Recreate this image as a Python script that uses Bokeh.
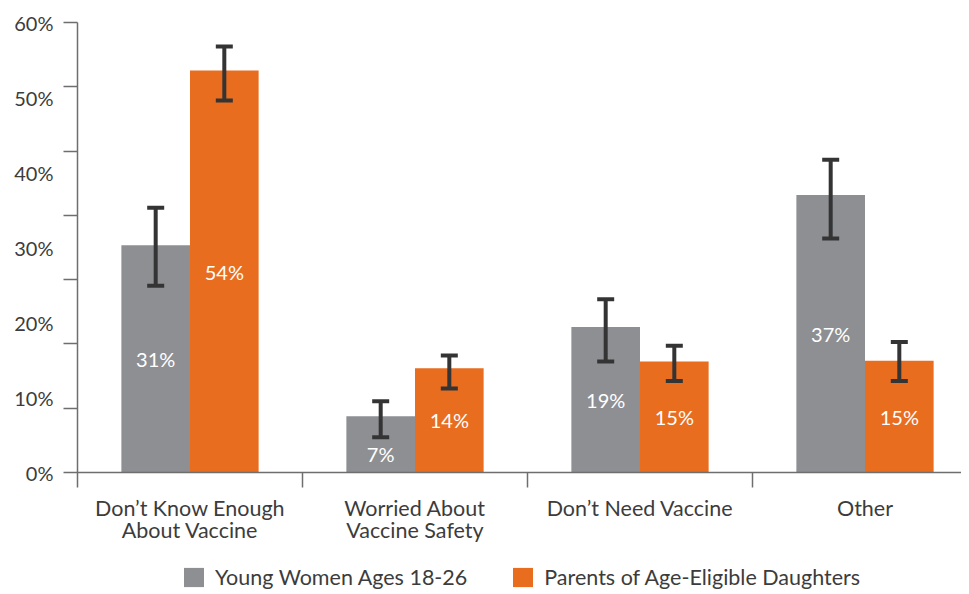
from bokeh.plotting import figure
from bokeh.models import (ColumnDataSource, FixedTicker, Range1d, Whisker, TeeHead,
                          Legend, LegendItem)
from bokeh.core.properties import value
from bokeh.embed import file_html
from bokeh.resources import INLINE

categories = ["Don\u2019t Know Enough\nAbout Vaccine", "Worried About\nVaccine Safety",
              "Don\u2019t Need Vaccine", "Other"]
series_names = ["Young Women Ages 18-26", "Parents of Age-Eligible Daughters"]
young = [30.3, 7.5, 19.4, 37.0]
young_hi = [35.3, 9.5, 23.1, 41.7]
young_lo = [24.9, 4.7, 14.8, 31.2]
young_labels = ["31%", "7%", "19%", "37%"]
parents = [53.6, 13.9, 14.8, 14.9]
parents_hi = [56.8, 15.6, 16.9, 17.4]
parents_lo = [49.6, 11.2, 12.2, 12.2]
parents_labels = ["54%", "14%", "15%", "15%"]
y_tick_labels = ["0%", "10%", "20%", "30%", "40%", "50%", "60%"]

GRAY = "#8e8f93"
ORANGE = "#e86d1f"
DARK = "#343434"
TEXT = "#3c3c3c"
AXIS = "#6e6e6e"
FONT = "Lato"

W, H = 961, 590
LEFT, TOP = 77, 22
PX_PER_CAT = 225.0
PX_PER_PCT = 7.5
frame_w = W - LEFT
y_min = -(H - (TOP + 60 * PX_PER_PCT)) / PX_PER_PCT
x_max = frame_w / PX_PER_CAT

BAR_W = 0.305
OFF = BAR_W / 2
n = len(categories)
centers = [i + 0.5 for i in range(n)]
bounds = list(range(1, n))

p = figure(width=W, height=H, output_backend="svg", toolbar_location=None,
           x_range=Range1d(0, x_max), y_range=Range1d(y_min, 60),
           x_axis_location=None,
           min_border_left=LEFT, min_border_right=0, min_border_top=TOP, min_border_bottom=0)
p.outline_line_color = None
p.xgrid.visible = False
p.ygrid.visible = False
p.background_fill_color = "white"


def label_y(vals, los):
    return [min(v * 0.5, lo - 2.2) for v, lo in zip(vals, los)]


src_y = ColumnDataSource(dict(x=[c - OFF for c in centers], top=young, hi=young_hi, lo=young_lo,
                              lab=young_labels, ly=label_y(young, young_lo)))
src_p = ColumnDataSource(dict(x=[c + OFF for c in centers], top=parents, hi=parents_hi, lo=parents_lo,
                              lab=parents_labels, ly=label_y(parents, parents_lo)))

r_y = p.vbar(x="x", top="top", bottom=0, width=BAR_W, source=src_y, fill_color=GRAY, line_color=None)
r_p = p.vbar(x="x", top="top", bottom=0, width=BAR_W, source=src_p, fill_color=ORANGE, line_color=None)

for src in (src_y, src_p):
    p.text(x="x", y="ly", text="lab", source=src, text_color="white",
           text_font=value(FONT), text_font_size="20px",
           text_align="center", text_baseline="middle")
    w = Whisker(base="x", upper="hi", lower="lo", source=src, line_color=DARK, line_width=4,
                level="overlay",
                upper_head=TeeHead(size=17, line_color=DARK, line_width=4),
                lower_head=TeeHead(size=17, line_color=DARK, line_width=4))
    p.add_layout(w)

# category axis drawn in data space (baseline, boundary ticks, labels)
tick_len = 15 / PX_PER_PCT
p.segment(x0=[0], x1=[x_max], y0=[0], y1=[0], line_color=AXIS, line_width=1.5)
p.segment(x0=bounds, x1=bounds, y0=[0] * len(bounds), y1=[-tick_len] * len(bounds),
          line_color=AXIS, line_width=1.5)
p.text(x=centers, y=[-22 / PX_PER_PCT] * n, text=categories, text_color=TEXT,
       text_font=value(FONT), text_font_size="21.5px", text_line_height=0.85,
       text_align="center", text_baseline="top")

# y axis
ya = p.yaxis[0]
ya.bounds = (-tick_len, 60)
ya.ticker = FixedTicker(ticks=[0, 10, 20, 30, 40, 50, 60],
                        minor_ticks=[k * 60 / 7 for k in range(8)])
ya.major_label_overrides = {i * 10: t for i, t in enumerate(y_tick_labels)}
ya.major_tick_line_color = None
ya.major_tick_out = 0
ya.major_tick_in = 0
ya.minor_tick_out = 14
ya.minor_tick_in = 0
ya.minor_tick_line_color = AXIS
ya.minor_tick_line_width = 1.5
ya.axis_line_color = AXIS
ya.axis_line_width = 1.5
ya.major_label_standoff = 10
ya.major_label_text_font = FONT
ya.major_label_text_font_size = "20px"
ya.major_label_text_color = TEXT

legend = Legend(items=[LegendItem(label=series_names[0], renderers=[r_y]),
                       LegendItem(label=series_names[1], renderers=[r_p])],
                orientation="horizontal", location=(104, 0),
                glyph_width=25, glyph_height=24, label_standoff=9, spacing=43,
                label_text_font=FONT, label_text_font_size="21.5px",
                label_text_color=TEXT, border_line_color=None,
                background_fill_alpha=0, padding=0, margin=0)
p.add_layout(legend, "center")

open("out.html", "w").write(file_html(p, INLINE))
